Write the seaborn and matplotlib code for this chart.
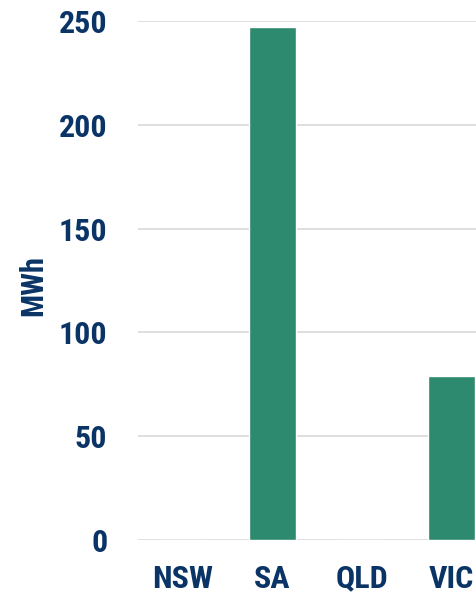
import matplotlib
matplotlib.use("Agg")
import matplotlib.pyplot as plt
import seaborn as sns
import pandas as pd

# values
states = ["NSW", "SA", "QLD", "VIC"]
mwh = [0, 247.3, 0, 79.0]
y_ticks = [0, 50, 100, 150, 200, 250]

navy = "#0b3466"
green = "#2e8a6e"

sns.set_theme(style="white")
plt.rcParams["font.family"] = ["Roboto Condensed", "Liberation Sans Narrow", "DejaVu Sans"]
plt.rcParams["font.weight"] = "bold"

df = pd.DataFrame({"state": states, "mwh": mwh})

fig = plt.figure(figsize=(4.77, 5.99), dpi=100)
ax = fig.add_axes([138 / 477, (599 - 540) / 599, (477 - 138) / 477, (540 - 21) / 599])

sns.barplot(data=df, x="state", y="mwh", color=green, width=0.525, saturation=1, ax=ax, zorder=3)

ax.set_xlim(-0.5, 3.29)
ax.set_ylim(0, 250)
ax.set_yticks(y_ticks)
ax.yaxis.grid(True, color="#d9d9d9", linewidth=1.2, zorder=0)
ax.set_axisbelow(True)
for s in ax.spines.values():
    s.set_visible(False)

ax.tick_params(axis="both", length=0, labelsize=23, labelcolor=navy)
ax.tick_params(axis="y", pad=22)
ax.tick_params(axis="x", pad=17)
for lab in ax.get_xticklabels() + ax.get_yticklabels():
    lab.set_fontweight("bold")

ax.set_xlabel("")
ax.set_ylabel("MWh", fontsize=22, fontweight="bold", color=navy)
ax.yaxis.set_label_coords(-0.265, 0.49)

fig.savefig("out.png", dpi=100)
